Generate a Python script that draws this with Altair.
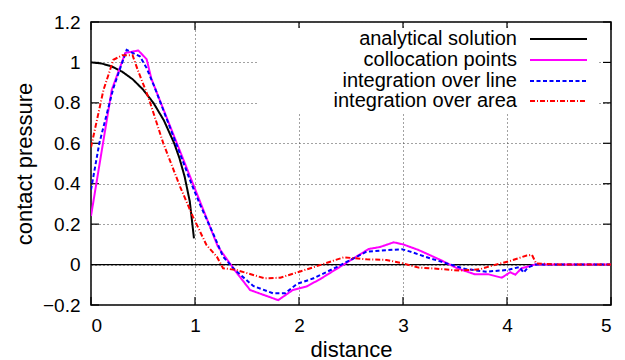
import altair as alt
import pandas as pd

# ---- data ----
analytic_x = [0, 0.1, 0.2, 0.3, 0.4, 0.5, 0.6, 0.7, 0.8, 0.85, 0.9, 0.95, 0.99]
analytic_y = [1.0, 0.995, 0.98, 0.954, 0.917, 0.866, 0.8, 0.714, 0.6, 0.527, 0.436, 0.312, 0.13]

colloc_x = [0, 0.2, 0.33, 0.455, 0.535, 0.58, 0.66, 1.22, 1.385, 1.53, 1.8, 1.94, 2.07, 2.2,
            2.67, 2.78, 2.91, 3.0, 3.15, 3.36, 3.52, 3.69, 3.82, 3.95, 4.03, 4.08, 4.14, 4.27,
            4.5, 5.0]
colloc_y = [0.24, 0.865, 1.047, 1.059, 1.016, 0.92, 0.815, 0.089, -0.03, -0.126, -0.176, -0.126,
            -0.109, -0.073, 0.077, 0.087, 0.11, 0.1, 0.072, 0.023, -0.018, -0.048, -0.048, -0.065,
            -0.038, -0.05, -0.018, 0.0, 0.0, 0.0]

line_x = [0, 0.08, 0.215, 0.28, 0.343, 0.47, 0.535, 0.615, 0.97, 1.05, 1.18, 1.27, 1.385, 1.56,
          1.75, 1.865, 1.98, 2.14, 2.36, 2.65, 2.78, 2.99, 3.07, 3.26, 3.42, 3.6, 3.8, 4.0, 4.12,
          4.16, 4.2, 4.27, 4.5, 5.0]
line_y = [0.37, 0.6, 0.873, 0.97, 1.062, 1.03, 0.972, 0.873, 0.394, 0.295, 0.147, 0.039, -0.027,
          -0.106, -0.142, -0.142, -0.096, -0.068, -0.013, 0.064, 0.069, 0.076, 0.064, 0.031, 0.006,
          -0.022, -0.035, -0.027, -0.012, -0.04, -0.015, 0.0, 0.0, 0.0]

area_x = [0, 0.12, 0.215, 0.3, 0.4, 0.455, 0.55, 0.695, 0.856, 0.98, 1.11, 1.21, 1.27, 1.4, 1.67,
          1.82, 2.14, 2.43, 2.65, 2.84, 3.0, 3.15, 3.26, 3.55, 3.74, 3.9, 4.03, 4.19, 4.24, 4.28,
          4.5, 5.0]
area_y = [0.58, 0.864, 1.013, 1.035, 1.035, 0.955, 0.83, 0.6, 0.386, 0.237, 0.097, 0.039, -0.018,
          -0.027, -0.068, -0.065, -0.013, 0.036, 0.026, 0.023, 0.006, -0.015, -0.018, -0.03,
          -0.023, 0.001, 0.018, 0.045, 0.048, 0.006, 0.0, 0.0]

series_names = ["analytical solution", "collocation points",
                "integration over line", "integration over area"]
series_colors = ["#000000", "#ff00ff", "#0000ff", "#ff0000"]
series_dashes = [[1, 0], [1, 0], [4, 2.5], [5, 2, 1, 2]]

x_ticks = [0, 1, 2, 3, 4, 5]
y_ticks = [-0.2, 0, 0.2, 0.4, 0.6, 0.8, 1.0, 1.2]

FONT = "Liberation Sans"
W, H = 520, 283
TICK = 8

frames = []
for name, xs, ys in zip(series_names,
                        [analytic_x, colloc_x, line_x, area_x],
                        [analytic_y, colloc_y, line_y, area_y]):
    frames.append(pd.DataFrame({"x": xs, "y": ys, "series": name, "order": range(len(xs))}))
df = pd.concat(frames, ignore_index=True)

xscale = alt.Scale(domain=[0, 5], nice=False, zero=False)
yscale = alt.Scale(domain=[-0.2, 1.2], nice=False, zero=False)

xaxis = alt.Axis(values=x_ticks, format="d", title="distance", grid=True,
                 titleX=W / 2, titleY=44, titleBaseline="middle")
yaxis = alt.Axis(values=y_ticks, format="~g", title="contact pressure", grid=True,
                 titleX=-67, titleY=H / 2, titleBaseline="middle", titleAngle=-90)

zero = alt.Chart(pd.DataFrame({"y0": [0]})).mark_rule(color="black", strokeWidth=1.2).encode(
    y=alt.Y("y0:Q", scale=yscale, axis=yaxis)
)

legend_bg = alt.Chart(pd.DataFrame({"a": [0]})).mark_rect(fill="white", stroke=None).encode(
    x=alt.value(167), x2=alt.value(508), y=alt.value(6), y2=alt.value(91)
)

# inward tick marks on all four sides
ydf = pd.DataFrame({"yt": y_ticks})
xdf = pd.DataFrame({"xt": x_ticks})
tick_style = dict(color="black", strokeWidth=1.2)
ticks_left = alt.Chart(ydf).mark_rule(**tick_style).encode(
    y=alt.Y("yt:Q", scale=yscale, axis=yaxis), x=alt.value(0), x2=alt.value(TICK))
ticks_right = alt.Chart(ydf).mark_rule(**tick_style).encode(
    y=alt.Y("yt:Q", scale=yscale, axis=yaxis), x=alt.value(W - TICK), x2=alt.value(W))
ticks_bottom = alt.Chart(xdf).mark_rule(**tick_style).encode(
    x=alt.X("xt:Q", scale=xscale, axis=xaxis), y=alt.value(H - TICK), y2=alt.value(H))
ticks_top = alt.Chart(xdf).mark_rule(**tick_style).encode(
    x=alt.X("xt:Q", scale=xscale, axis=xaxis), y=alt.value(0), y2=alt.value(TICK))

lines = alt.Chart(df).mark_line(strokeWidth=2, clip=True).encode(
    x=alt.X("x:Q", scale=xscale, axis=xaxis),
    y=alt.Y("y:Q", scale=yscale, axis=yaxis),
    color=alt.Color("series:N", scale=alt.Scale(domain=series_names, range=series_colors),
                    legend=None),
    strokeDash=alt.StrokeDash("series:N",
                              scale=alt.Scale(domain=series_names, range=series_dashes),
                              legend=None),
    order="order:Q",
)

legend_layers = []
row_y = [17, 38, 59, 79]
for name, col, dash, ry in zip(series_names, series_colors, series_dashes, row_y):
    legend_layers.append(
        alt.Chart(pd.DataFrame({"label": [name]})).mark_text(
            align="right", baseline="middle", font=FONT, fontSize=20, color="black"
        ).encode(text="label:N", x=alt.value(426), y=alt.value(ry))
    )
    legend_layers.append(
        alt.Chart(pd.DataFrame({"label": [name]})).mark_rule(
            color=col, strokeWidth=2, strokeDash=dash
        ).encode(x=alt.value(439), x2=alt.value(496), y=alt.value(ry))
    )

chart = alt.layer(ticks_left, ticks_right, ticks_bottom, ticks_top, legend_bg, zero, lines,
                  *legend_layers).properties(
    width=W, height=H,
    autosize=alt.AutoSizeParams(type="none"),
    padding={"left": 91, "top": 22, "right": 14, "bottom": 55},
).configure_view(
    stroke="black", strokeWidth=1.5
).configure_axis(
    domain=False, ticks=False,
    gridColor="#444", gridDash=[1, 3], gridWidth=1,
    labelFont=FONT, labelFontSize=19, labelColor="black", labelPadding=11,
    titleFont=FONT, titleFontSize=22, titleFontWeight="normal", titleColor="black",
)

chart.save("out.html", embed_options={"renderer": "svg", "actions": False})
